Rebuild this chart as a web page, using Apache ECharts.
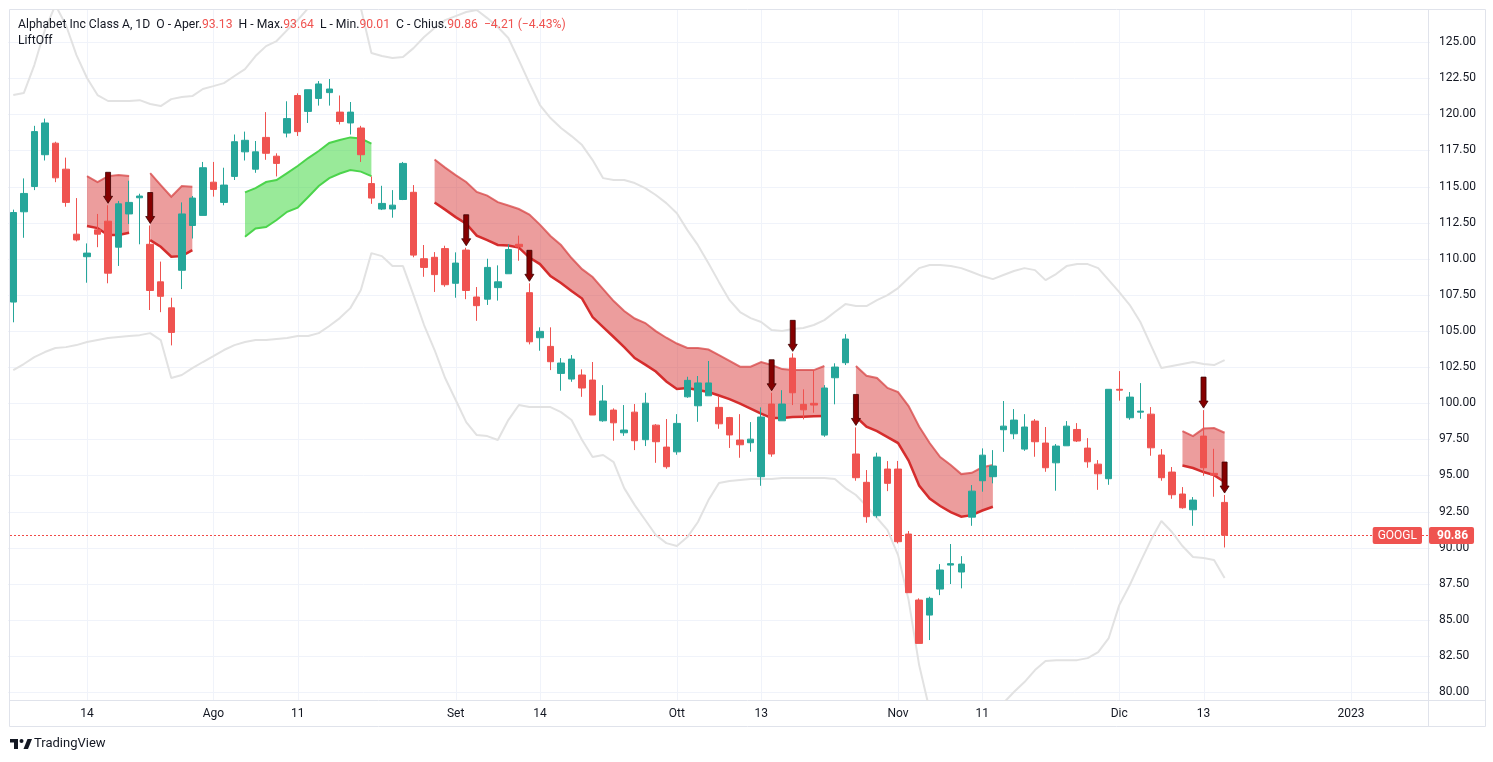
<!DOCTYPE html>
<html><head><meta charset="utf-8">
<script src="https://cdn.jsdelivr.net/npm/echarts@6/dist/echarts.min.js"></script>
<style>html,body{margin:0;padding:0;background:#fff;}#c{width:1493px;height:762px;}</style>
</head><body><div id="c"></div>
<script>
// ---------- DATA ----------
const dates = [
'2022-07-05','2022-07-06','2022-07-07','2022-07-08','2022-07-11','2022-07-12','2022-07-13','2022-07-14','2022-07-15','2022-07-18','2022-07-19','2022-07-20','2022-07-21','2022-07-22','2022-07-25','2022-07-26','2022-07-27','2022-07-28','2022-07-29',
'2022-08-01','2022-08-02','2022-08-03','2022-08-04','2022-08-05','2022-08-08','2022-08-09','2022-08-10','2022-08-11','2022-08-12','2022-08-15','2022-08-16','2022-08-17','2022-08-18','2022-08-19','2022-08-22','2022-08-23','2022-08-24','2022-08-25','2022-08-26','2022-08-29','2022-08-30','2022-08-31',
'2022-09-01','2022-09-02','2022-09-06','2022-09-07','2022-09-08','2022-09-09','2022-09-12','2022-09-13','2022-09-14','2022-09-15','2022-09-16','2022-09-19','2022-09-20','2022-09-21','2022-09-22','2022-09-23','2022-09-26','2022-09-27','2022-09-28','2022-09-29','2022-09-30',
'2022-10-03','2022-10-04','2022-10-05','2022-10-06','2022-10-07','2022-10-10','2022-10-11','2022-10-12','2022-10-13','2022-10-14','2022-10-17','2022-10-18','2022-10-19','2022-10-20','2022-10-21','2022-10-24','2022-10-25','2022-10-26','2022-10-27','2022-10-28','2022-10-31',
'2022-11-01','2022-11-02','2022-11-03','2022-11-04','2022-11-07','2022-11-08','2022-11-09','2022-11-10','2022-11-11','2022-11-14','2022-11-15','2022-11-16','2022-11-17','2022-11-18','2022-11-21','2022-11-22','2022-11-23','2022-11-25','2022-11-28','2022-11-29','2022-11-30',
'2022-12-01','2022-12-02','2022-12-05','2022-12-06','2022-12-07','2022-12-08','2022-12-09','2022-12-12','2022-12-13','2022-12-14','2022-12-15',
'2022-12-16','2022-12-19','2022-12-20','2022-12-21','2022-12-22','2022-12-23','2022-12-26','2022-12-27','2022-12-28','2022-12-29','2022-12-30','2023-01-02','2023-01-03','2023-01-04','2023-01-05','2023-01-06','2023-01-09','2023-01-10','2023-01-11'
];
const xLabelDates = ['2022-07-14','2022-08-01','2022-08-11','2022-09-01','2022-09-14','2022-10-03','2022-10-13','2022-11-01','2022-11-11','2022-12-01','2022-12-13','2023-01-02'];
const xLabelTexts = ['14','Ago','11','Set','14','Ott','13','Nov','11','Dic','13','2023'];
const yTicks = [80,82.5,85,87.5,90,92.5,95,97.5,100,102.5,105,107.5,110,112.5,115,117.5,120,122.5,125];

const opens = [107.0,113.25,115.0,117.2,118.0,116.2,111.7,110.14,112.0,112.6,110.8,113.1,114.22,111.0,108.4,106.6,109.2,112.3,113.0,115.3,113.9,115.7,117.4,116.2,118.4,117.1,118.7,121.3,120.2,121.1,121.5,120.15,119.4,119.05,115.2,113.44,113.44,114.1,114.6,110.0,110.1,110.7,108.3,110.6,107.35,107.2,108.0,108.96,111.0,107.65,104.53,103.93,102.06,101.67,101.95,101.6,98.78,99.52,97.95,99.38,97.47,98.48,96.96,96.63,100.44,99.82,100.51,99.71,99.0,97.45,97.26,94.91,99.94,98.78,103.12,99.92,99.99,97.79,101.76,102.8,96.48,94.52,92.21,95.44,95.44,90.94,86.37,85.33,87.13,88.79,88.31,92.11,94.63,94.91,98.16,97.88,96.82,98.76,97.24,95.87,97.05,98.18,96.89,95.78,94.77,100.96,98.99,99.38,99.24,96.41,95.23,93.71,92.62,97.72,95.14,93.13];
const highs = [113.4,115.56,119.2,119.7,118.1,117.0,114.2,111.06,113.1,113.7,114.0,115.4,114.5,112.3,109.8,107.3,113.9,114.34,116.7,116.7,116.3,118.6,118.8,118.15,120.15,117.3,120.9,121.45,121.7,122.3,122.44,121.3,120.85,119.2,115.7,115.05,114.75,116.7,115.1,110.95,110.46,110.9,110.44,110.76,108.04,110.0,109.54,111.0,111.6,108.3,105.25,105.25,103.12,103.33,102.34,102.85,101.25,99.64,99.87,99.94,100.72,98.55,98.9,99.24,101.83,101.88,102.92,100.47,99.05,99.24,98.69,99.71,100.72,100.9,103.45,100.96,102.29,101.25,102.76,104.78,98.32,95.37,96.57,95.99,96.0,91.15,86.49,86.6,88.86,90.25,89.41,94.33,96.87,96.75,100.15,99.59,99.24,98.9,98.35,97.17,98.76,98.62,97.58,96.06,100.96,102.22,100.77,101.39,99.73,96.82,95.58,94.19,93.5,99.52,96.84,93.64];
const lows = [105.6,111.45,114.75,116.8,115.3,113.6,111.2,108.34,110.8,108.3,109.5,112.4,111.0,106.45,106.3,104.0,107.9,111.4,113.0,114.3,113.7,115.45,116.8,115.95,116.85,115.7,118.4,118.5,119.4,120.6,120.6,119.3,118.6,116.7,113.8,113.37,112.84,114.06,110.1,108.75,107.7,108.06,107.3,107.2,105.7,106.8,107.1,108.96,109.86,104.07,103.63,102.29,100.86,101.48,100.44,99.18,98.71,97.4,97.74,96.75,97.03,95.87,95.46,96.43,100.37,98.71,100.51,98.23,96.9,96.22,96.64,94.28,96.29,98.78,99.87,98.88,99.34,97.67,99.92,102.64,94.63,91.72,92.07,93.91,90.29,86.88,83.37,83.6,86.71,87.48,87.18,91.51,93.87,94.45,96.63,97.51,96.7,96.29,95.25,93.94,97.05,97.31,95.53,94.0,94.35,100.17,98.85,98.92,96.36,94.63,93.38,92.69,91.51,94.97,93.52,90.01];
const closes = [113.2,114.52,118.8,119.4,115.6,113.9,111.3,110.39,111.7,109.0,113.8,113.9,114.34,107.8,107.4,104.9,113.1,114.2,116.3,114.8,115.1,118.1,118.2,117.4,117.3,116.6,119.7,118.8,121.7,122.1,121.75,119.5,120.15,117.2,114.2,113.83,113.71,116.6,110.25,109.4,108.9,108.2,109.7,107.8,106.75,109.4,108.4,110.64,110.83,104.25,104.97,102.87,102.78,103.05,101.05,99.18,100.15,98.64,98.14,97.4,100.0,97.33,95.6,98.6,101.58,101.4,101.4,98.57,97.8,97.12,97.51,99.04,96.48,99.94,100.72,99.54,99.87,101.05,102.5,104.44,94.84,92.14,96.27,94.45,90.41,86.88,83.37,86.49,88.45,88.89,88.86,93.91,96.4,95.65,98.41,98.83,98.35,97.33,95.53,97.03,98.41,97.38,95.94,95.11,100.96,100.9,100.42,99.45,96.91,94.84,93.66,92.76,93.29,95.53,95.02,90.86];

const bbUpper = [121.33,121.47,123.41,125.83,127.56,126.18,124.10,122.51,121.33,120.92,120.92,120.92,120.98,120.71,120.57,121.05,121.19,121.26,121.75,121.95,122.16,122.65,123.13,124.03,124.72,125.07,125.83,126.52,127.35,127.91,128.25,128.46,128.25,127.35,124.24,124.03,123.89,123.96,124.58,125.35,125.97,126.52,126.80,127.08,127.22,126.66,126.04,125.28,123.75,122.16,120.64,119.74,119.05,118.49,117.87,116.83,115.58,115.45,115.45,115.24,114.89,114.41,113.85,113.15,111.98,110.94,109.69,108.38,107.13,106.31,105.89,105.62,105.06,104.99,105.13,105.20,105.41,105.75,106.31,106.86,106.72,106.72,107.13,107.48,107.97,108.66,109.35,109.56,109.56,109.49,109.35,109.08,108.80,108.59,108.87,109.15,109.35,109.21,108.52,108.94,109.49,109.63,109.63,109.35,108.52,107.69,106.79,105.62,104.02,102.43,102.57,102.71,102.85,102.71,102.64,102.98];
const bbLower = [102.29,102.71,103.19,103.54,103.82,103.88,104.02,104.23,104.37,104.51,104.58,104.65,104.71,104.85,104.37,101.74,101.95,102.43,102.85,103.26,103.68,104.02,104.23,104.37,104.37,104.44,104.51,104.65,104.65,104.85,105.34,105.89,106.58,107.83,110.39,110.18,109.49,109.49,107.48,105.41,103.68,101.74,100.22,98.69,97.79,97.72,97.45,98.83,99.87,99.73,99.73,99.73,99.38,98.83,97.45,96.27,96.41,95.92,94.12,92.94,91.91,90.87,90.31,90.11,90.73,91.77,93.29,94.47,94.61,94.68,94.75,94.75,94.75,94.82,94.82,94.82,94.82,94.82,94.75,94.12,93.64,92.88,92.05,91.21,89.48,86.37,81.87,78.75,77.02,76.33,76.12,76.33,77.02,78.06,79.24,80.00,80.69,81.52,82.15,82.21,82.21,82.21,82.35,82.77,83.74,86.02,87.41,89.00,90.52,91.84,91.08,90.11,89.35,89.28,89.14,87.89];

// LiftOff bands: start index, kind, upper and lower edges
const liftStart = [7, 13, 22, 40, 80, 111];
const liftKind = ['sell','sell','buy','sell','sell','sell'];
const liftUpper = [
 [115.72,115.31,115.72,115.79,115.72],
 [115.93,115.10,114.29,115.03,114.98],
 [114.59,114.89,115.31,115.45,115.93,116.42,116.97,117.46,118.01,118.22,118.40,118.32,117.97],
 [116.87,116.31,115.79,115.31,114.62,114.37,113.92,113.68,113.44,113.06,112.36,111.57,110.95,110.05,109.28,108.73,107.90,107.07,106.38,105.86,105.55,104.99,104.53,104.13,103.82,103.82,103.71,103.33,102.92,102.53,102.53,102.85,102.64,102.36,102.29,102.29,102.29,102.57],
 [102.57,101.90,101.74,101.05,100.77,99.80,98.38,97.24,96.27,95.72,95.09,95.18,95.56,95.72],
 [98.07,97.72,98.24,98.28,97.95]
];
const liftLower = [
 [112.26,112.12,111.64,111.64,111.80],
 [111.29,110.83,110.14,110.18,110.60],
 [111.52,112.09,112.19,112.68,113.25,113.54,114.27,115.03,115.58,115.90,116.14,116.03,115.72],
 [113.89,113.40,112.88,112.43,111.60,111.29,110.95,110.91,110.77,110.08,109.63,108.80,108.32,107.76,107.24,105.96,105.27,104.58,103.88,103.12,102.67,102.19,101.50,100.98,101.05,100.91,100.77,100.53,100.28,99.97,99.63,99.28,98.97,98.97,99.04,99.06,99.09,99.11],
 [99.06,98.37,98.07,97.65,97.24,96.03,94.30,93.40,92.88,92.46,92.14,92.25,92.57,92.83],
 [95.68,95.51,95.23,95.02,94.54]
];
const arrowIdx = [9, 13, 43, 49, 72, 74, 80, 113, 115];
const lastPrice = 90.86;

// ---------- CHART ----------
const UP = '#26a69a', DOWN = '#ef5350', TXT = '#131722', FONT = 'Roboto, "Liberation Sans", sans-serif';
const chart = echarts.init(document.getElementById('c'), null, {renderer: 'canvas'});
const candleData = opens.map((o, i) => [o, closes[i], lows[i], highs[i]]);
const labelSet = {};
xLabelDates.forEach((d, k) => labelSet[d] = xLabelTexts[k]);

const option = {
  animation: false,
  backgroundColor: '#ffffff',
  textStyle: {fontFamily: FONT},
  title: {
    left: 13, top: 12, padding: 5,
    text: '{a|Alphabet Inc Class A, 1D  O - Aper.}{r|93.13}{a|  H - Max.}{r|93.64}{a|  L - Min.}{r|90.01}{a|  C - Chius.}{r|90.86}{r|  −4.21 (−4.43%)}\n{a|LiftOff}',
    textStyle: {
      fontWeight: 'normal', fontSize: 12.2,
      rich: {
        a: {color: TXT, fontSize: 12.2, fontFamily: FONT, fontWeight: 'normal', lineHeight: 16},
        r: {color: DOWN, fontSize: 12.2, fontFamily: FONT, fontWeight: 'normal', lineHeight: 16}
      }
    }
  },
  grid: {left: 8, right: 63, top: 10, bottom: 62, containLabel: false},
  xAxis: {
    type: 'category', data: dates, boundaryGap: true,
    axisLine: {show: false}, axisTick: {show: false}, splitLine: {show: false},
    axisLabel: {
      color: TXT, fontSize: 12, fontFamily: FONT, margin: 8,
      interval: (idx, val) => labelSet[val] !== undefined,
      formatter: val => labelSet[val] || ''
    }
  },
  yAxis: {
    type: 'value', position: 'right', min: 79.45, max: 127.22, scale: true,
    axisLine: {show: false}, axisTick: {show: false}, splitLine: {show: false},
    axisLabel: {
      color: TXT, fontSize: 12, fontFamily: FONT, margin: 9,
      customValues: yTicks,
      formatter: v => v.toFixed(2)
    }
  },
  series: [
    {
      type: 'custom', name: 'grid', z: 0, silent: true, clip: false,
      data: [[0, yTicks[0]]],
      renderItem: (params, api) => {
        const cs = params.coordSys;
        const x0 = cs.x, x1 = cs.x + cs.width, y0 = cs.y, y1 = cs.y + cs.height;
        const kids = [];
        yTicks.forEach(v => {
          const y = Math.round(api.coord([0, v])[1]) + 0.5;
          kids.push({type: 'line', shape: {x1: x0, y1: y, x2: x1, y2: y}, style: {stroke: '#f0f3fa', lineWidth: 1}});
        });
        xLabelDates.forEach(d => {
          const x = Math.round(api.coord([dates.indexOf(d), yTicks[0]])[0]) + 0.5;
          kids.push({type: 'line', shape: {x1: x, y1: y0, x2: x, y2: y1}, style: {stroke: '#f0f3fa', lineWidth: 1}});
        });
        return {type: 'group', children: kids};
      }
    },
    {
      type: 'custom', name: 'LiftOff', z: 1, clip: true, silent: true,
      data: liftStart.map((s, k) => [s, liftUpper[k][0]]),
      renderItem: (params, api) => {
        const k = params.dataIndex, s = liftStart[k];
        const up = liftUpper[k].map((v, j) => api.coord([s + j, v]));
        const lo = liftLower[k].map((v, j) => api.coord([s + j, v]));
        const buy = liftKind[k] === 'buy';
        const fill = buy ? 'rgba(60,215,60,0.52)' : 'rgba(215,50,50,0.48)';
        const upC = buy ? '#4cd44c' : 'rgba(215,70,70,0.75)';
        const loC = buy ? '#4cd44c' : '#d52d2d';
        return {type: 'group', children: [
          {type: 'polygon', shape: {points: up.concat(lo.slice().reverse())}, style: {fill: fill}},
          {type: 'polyline', shape: {points: up}, style: {stroke: upC, lineWidth: 2, fill: null}},
          {type: 'polyline', shape: {points: lo}, style: {stroke: loC, lineWidth: buy ? 2 : 2.5, fill: null}}
        ]};
      }
    },
    {
      type: 'line', name: 'BB upper', data: bbUpper, z: 2, symbol: 'none', silent: true, clip: true,
      lineStyle: {color: '#e2e2e2', width: 2}
    },
    {
      type: 'line', name: 'BB lower', data: bbLower, z: 2, symbol: 'none', silent: true, clip: true,
      lineStyle: {color: '#e2e2e2', width: 2}
    },
    {
      type: 'custom', name: 'Last price line', z: 2, silent: true, clip: false,
      data: [[0, lastPrice]],
      renderItem: (params, api) => {
        const cs = params.coordSys;
        const y = Math.round(api.coord([0, api.value(1)])[1]) + 0.5;
        return {type: 'line', shape: {x1: cs.x + 2, y1: y, x2: cs.x + cs.width - 2, y2: y},
          style: {stroke: '#f04a47', lineWidth: 1, lineDash: [2, 2]}};
      }
    },
    {
      type: 'candlestick', name: 'GOOGL', data: candleData, z: 3, barWidth: 7,
      itemStyle: {color: UP, color0: DOWN, borderColor: UP, borderColor0: DOWN, borderWidth: 1}
    },
    {
      type: 'custom', name: 'Sell', z: 4, silent: true, clip: false,
      data: arrowIdx.map(i => [i, highs[i]]),
      renderItem: (params, api) => {
        const p = api.coord([api.value(0), api.value(1)]);
        const x = p[0], t = p[1] - 2;
        const pts = [[x - 2.5, t - 31], [x + 2.5, t - 31], [x + 2.5, t - 7], [x + 4.5, t - 7], [x, t], [x - 4.5, t - 7], [x - 2.5, t - 7]];
        return {type: 'polygon', shape: {points: pts}, style: {fill: '#850000', stroke: '#3d0000', lineWidth: 0.8}};
      }
    }
  ]
};
chart.setOption(option);

const yLast = Math.round(chart.convertToPixel({yAxisIndex: 0}, lastPrice));
const LINE = '#e0e3eb';
chart.setOption({
  graphic: [
    {type: 'line', shape: {x1: 9.5, y1: 9.5, x2: 1485.5, y2: 9.5}, style: {stroke: LINE, lineWidth: 1}, silent: true},
    {type: 'line', shape: {x1: 9.5, y1: 9.5, x2: 9.5, y2: 726.5}, style: {stroke: LINE, lineWidth: 1}, silent: true},
    {type: 'line', shape: {x1: 1485.5, y1: 9.5, x2: 1485.5, y2: 726.5}, style: {stroke: LINE, lineWidth: 1}, silent: true},
    {type: 'line', shape: {x1: 9.5, y1: 726.5, x2: 1485.5, y2: 726.5}, style: {stroke: LINE, lineWidth: 1}, silent: true},
    {type: 'line', shape: {x1: 1428.5, y1: 9.5, x2: 1428.5, y2: 726.5}, style: {stroke: LINE, lineWidth: 1}, silent: true},
    {type: 'line', shape: {x1: 9.5, y1: 700.5, x2: 1485.5, y2: 700.5}, style: {stroke: LINE, lineWidth: 1}, silent: true},
    {type: 'text', x: 1422, y: yLast + 0.5, silent: true, z: 10,
      style: {text: 'GOOGL', fill: '#fff', font: '12px ' + FONT, align: 'right', verticalAlign: 'middle',
        backgroundColor: DOWN, padding: [3, 5, 2, 5], borderRadius: 2}},
    {type: 'text', x: 1429, y: yLast + 0.5, silent: true, z: 10,
      style: {text: lastPrice.toFixed(2), fill: '#fff', font: 'bold 12px ' + FONT, align: 'left', verticalAlign: 'middle',
        backgroundColor: DOWN, padding: [3, 6, 2, 8], borderRadius: 2}},
    {type: 'rect', shape: {x: 10, y: 739, width: 8, height: 3.5}, style: {fill: TXT}, silent: true},
    {type: 'rect', shape: {x: 14, y: 739, width: 4, height: 10}, style: {fill: TXT}, silent: true},
    {type: 'circle', shape: {cx: 21.5, cy: 741, r: 2}, style: {fill: TXT}, silent: true},
    {type: 'polygon', shape: {points: [[23.5, 749], [27.5, 739], [32, 739], [28, 749]]}, style: {fill: TXT}, silent: true},
    {type: 'text', x: 34, y: 744, silent: true,
      style: {text: 'TradingView', fill: TXT, font: '13px ' + FONT, verticalAlign: 'middle'}}
  ]
});
</script>
</body></html>
